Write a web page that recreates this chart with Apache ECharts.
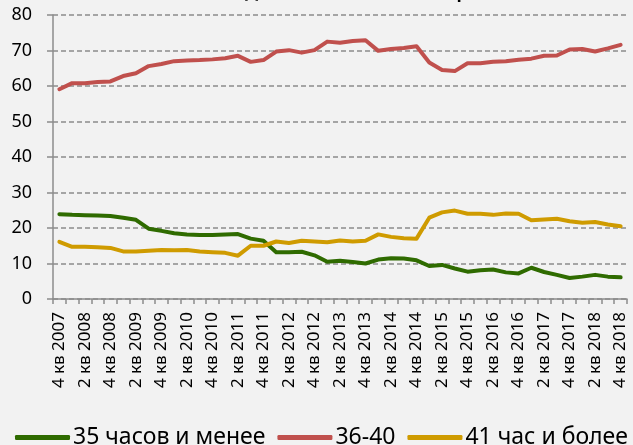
<!DOCTYPE html>
<html>
<head>
<meta charset="utf-8">
<script src="https://cdn.jsdelivr.net/npm/echarts@6/dist/echarts.min.js"></script>
<style>
    html, body { margin: 0; padding: 0; background: #f2f2f2; }
    #chart { width: 633px; height: 445px; }
</style>
</head>
<body>
<div id="chart"></div>
<script>
// кварталы с 4 кв 2007 по 4 кв 2018
const quarters = []
for (let y = 2007; y <= 2018; y++) {
    for (let q = 1; q <= 4; q++) {
        if (y === 2007 && q < 4) continue
        quarters.push(q + ' кв ' + y)
    }
}
const seriesNames = ['35 часов и менее', '36-40', '41 час и более']
const upTo35 = [23.9, 23.7, 23.6, 23.5, 23.4, 22.9, 22.3, 19.8, 19.2, 18.5, 18.2, 18.0, 18.0, 18.2, 18.3, 17.0, 16.4, 13.2, 13.2, 13.3, 12.3, 10.5, 10.8, 10.4, 10.0, 11.1, 11.5, 11.4, 10.9, 9.3, 9.6, 8.6, 7.7, 8.1, 8.3, 7.5, 7.2, 8.8, 7.6, 6.8, 5.9, 6.3, 6.8, 6.3, 6.1]
const from36to40 = [59.1, 60.8, 60.8, 61.1, 61.3, 62.8, 63.6, 65.6, 66.2, 67.0, 67.2, 67.3, 67.5, 67.8, 68.5, 66.8, 67.3, 69.7, 70.1, 69.4, 70.1, 72.5, 72.2, 72.7, 72.9, 69.9, 70.4, 70.7, 71.2, 66.6, 64.5, 64.2, 66.4, 66.4, 66.8, 67.0, 67.4, 67.7, 68.5, 68.6, 70.3, 70.4, 69.7, 70.6, 71.6]
const from41 = [16.1, 14.7, 14.7, 14.6, 14.4, 13.4, 13.4, 13.6, 13.8, 13.7, 13.8, 13.4, 13.2, 13.0, 12.2, 15.0, 15.0, 16.2, 15.8, 16.4, 16.2, 16.0, 16.5, 16.2, 16.4, 18.2, 17.5, 17.1, 17.0, 22.9, 24.4, 24.9, 24.0, 24.0, 23.7, 24.1, 24.0, 22.2, 22.4, 22.6, 21.9, 21.5, 21.7, 21.0, 20.5]
const yTicks = [0, 10, 20, 30, 40, 50, 60, 70, 80]

const font = '"Noto Sans", "DejaVu Sans", sans-serif'
const myChart = echarts.init(document.getElementById('chart'))
const option = {
    backgroundColor: '#f2f2f2',
    animation: false,
    title: {
        text: 'Доля занятых по часам работы, %',
        left: 240,
        top: -20,
        textStyle: { fontFamily: font, fontSize: 17, fontWeight: 'bold', color: '#000' }
    },
    color: ['#2f6b00', '#c0504d', '#cf9b00'],
    legend: {
        data: seriesNames,
        left: 10,
        right: 0,
        top: 421,
        itemWidth: 55,
        itemHeight: 5,
        itemGap: 12,
        icon: 'roundRect',
        textStyle: { fontFamily: font, fontSize: 23, color: '#000', padding: [0, 0, 0, -2] }
    },
    grid: {
        left: 53,
        right: 6,
        top: 15,
        bottom: 146,
        containLabel: false
    },
    xAxis: {
        type: 'category',
        data: quarters,
        boundaryGap: true,
        axisLine: { lineStyle: { color: '#8c8c8c', width: 1.5 } },
        axisTick: { show: true, interval: 0, length: 5, lineStyle: { color: '#8c8c8c', width: 1.5 } },
        axisLabel: {
            interval: 1,
            rotate: 90,
            margin: 13,
            fontFamily: font,
            fontSize: 17,
            color: '#000'
        },
        splitLine: { show: false }
    },
    yAxis: {
        type: 'value',
        min: yTicks[0],
        max: yTicks[yTicks.length - 1],
        interval: 10,
        axisLine: { show: true, lineStyle: { color: '#8c8c8c', width: 1.5 } },
        axisTick: { show: true, length: 6, lineStyle: { color: '#8c8c8c', width: 1.5 } },
        axisLabel: { margin: 21, fontFamily: font, fontSize: 18, color: '#000' },
        splitLine: {
            show: true,
            lineStyle: { color: '#8c8c8c', width: 1.5, type: [5, 3] }
        }
    },
    series: [
        { name: seriesNames[0], type: 'line', data: upTo35, symbol: 'none', lineStyle: { width: 4, cap: 'round', join: 'round' } },
        { name: seriesNames[1], type: 'line', data: from36to40, symbol: 'none', lineStyle: { width: 4, cap: 'round', join: 'round' } },
        { name: seriesNames[2], type: 'line', data: from41, symbol: 'none', lineStyle: { width: 4, cap: 'round', join: 'round' } }
    ]
}
myChart.setOption(option)
</script>
</body>
</html>
